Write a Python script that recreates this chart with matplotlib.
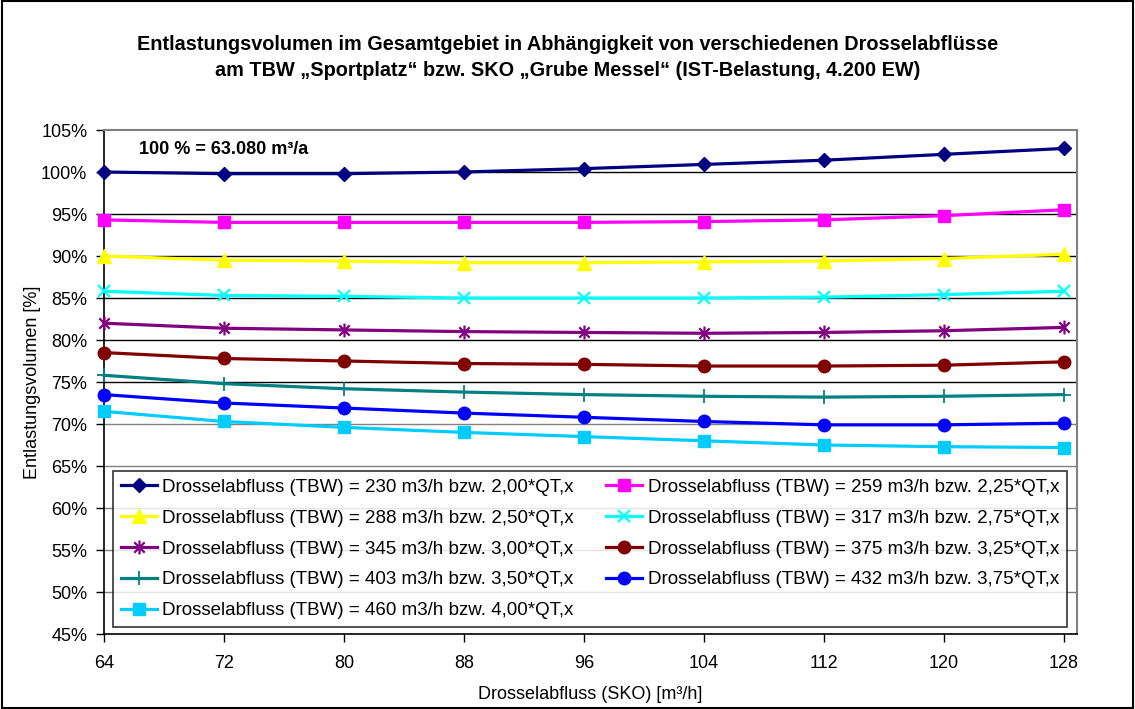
import matplotlib
matplotlib.use("Agg")
import matplotlib.pyplot as plt
from matplotlib.path import Path
from matplotlib.patches import Rectangle
from matplotlib.ticker import PercentFormatter

plt.rcParams['font.family'] = ['Liberation Sans', 'DejaVu Sans']

# Drosselabfluss SKO [m3/h]
sko = [64, 72, 80, 88, 96, 104, 112, 120, 128]

labels = [
    "Drosselabfluss (TBW) = 230 m3/h bzw. 2,00*QT,x",
    "Drosselabfluss (TBW) = 259 m3/h bzw. 2,25*QT,x",
    "Drosselabfluss (TBW) = 288 m3/h bzw. 2,50*QT,x",
    "Drosselabfluss (TBW) = 317 m3/h bzw. 2,75*QT,x",
    "Drosselabfluss (TBW) = 345 m3/h bzw. 3,00*QT,x",
    "Drosselabfluss (TBW) = 375 m3/h bzw. 3,25*QT,x",
    "Drosselabfluss (TBW) = 403 m3/h bzw. 3,50*QT,x",
    "Drosselabfluss (TBW) = 432 m3/h bzw. 3,75*QT,x",
    "Drosselabfluss (TBW) = 460 m3/h bzw. 4,00*QT,x",
]

# Entlastungsvolumen [%] je TBW-Drosselabfluss
tbw_230 = [100.0, 99.8, 99.8, 100.0, 100.4, 100.9, 101.4, 102.1, 102.8]
tbw_259 = [94.3, 94.0, 94.0, 94.0, 94.0, 94.1, 94.3, 94.8, 95.5]
tbw_288 = [90.0, 89.5, 89.4, 89.2, 89.2, 89.3, 89.4, 89.7, 90.2]
tbw_317 = [85.8, 85.3, 85.2, 85.0, 85.0, 85.0, 85.1, 85.4, 85.8]
tbw_345 = [82.0, 81.4, 81.2, 81.0, 80.9, 80.8, 80.9, 81.1, 81.5]
tbw_375 = [78.5, 77.8, 77.5, 77.2, 77.1, 76.9, 76.9, 77.0, 77.4]
tbw_403 = [75.8, 74.8, 74.2, 73.8, 73.5, 73.3, 73.2, 73.3, 73.5]
tbw_432 = [73.5, 72.5, 71.9, 71.3, 70.8, 70.3, 69.9, 69.9, 70.1]
tbw_460 = [71.5, 70.3, 69.6, 69.0, 68.5, 68.0, 67.5, 67.3, 67.2]

series = [tbw_230, tbw_259, tbw_288, tbw_317, tbw_345,
          tbw_375, tbw_403, tbw_432, tbw_460]

# asterisk marker: vertical bar plus an X
asterisk = Path([(0, -1), (0, 1), (-0.75, -0.75), (0.75, 0.75),
                 (-0.75, 0.75), (0.75, -0.75)],
                [Path.MOVETO, Path.LINETO, Path.MOVETO, Path.LINETO,
                 Path.MOVETO, Path.LINETO])

styles = [
    dict(color="#000080", marker="D", ms=7),
    dict(color="#FF00FF", marker="s", ms=9),
    dict(color="#FFFF00", marker="^", ms=10),
    dict(color="#00FFFF", marker="x", ms=9, mew=1.6),
    dict(color="#800080", marker=asterisk, ms=10, mew=1.6),
    dict(color="#800000", marker="o", ms=9),
    dict(color="#008080", marker="+", ms=10, mew=1.3),
    dict(color="#0000FF", marker="o", ms=9),
    dict(color="#00CCFF", marker="s", ms=9),
]

fig = plt.figure(figsize=(11.35, 7.09), dpi=100)
ax = fig.add_axes([104 / 1135, 1 - 634 / 709, 973 / 1135, 504 / 709])

# horizontal gridlines
for lvl in range(50, 105, 5):
    col = "black" if 75 <= lvl <= 100 else "#808080"
    ax.axhline(lvl, color=col, lw=1.0, zorder=0.5)

handles = []
for vals, st, lab in zip(series, styles, labels):
    h, = ax.plot(sko, vals, lw=2.3, mec=st["color"], mfc=st["color"],
                 label=lab, clip_on=False, zorder=3, **st)
    handles.append(h)

ax.set_xlim(64, 128.9)
ax.set_ylim(45, 105)
ax.set_xticks(sko)
ax.set_yticks(range(45, 106, 5))
ax.yaxis.set_major_formatter(PercentFormatter(decimals=0))

ax.tick_params(axis="both", labelsize=13, direction="out", length=6,
               width=1, color="black")
ax.tick_params(axis="y", pad=6)
ax.tick_params(axis="x", pad=9)

for side in ("left", "bottom"):
    ax.spines[side].set_color("black")
    ax.spines[side].set_linewidth(1.2)
for side in ("top", "right"):
    ax.spines[side].set_color("#808080")
    ax.spines[side].set_linewidth(1.5)

ax.set_ylabel("Entlastungsvolumen [%]", fontsize=13, labelpad=0)
ax.set_xlabel("Drosselabfluss (SKO) [m³/h]", fontsize=13, labelpad=10)

ax.text(0.036, 0.962, "100 % = 63.080 m³/a", transform=ax.transAxes,
        fontsize=13, fontweight="bold", va="center", ha="left")

fig.text(0.5, 1 - 45 / 709,
         "Entlastungsvolumen im Gesamtgebiet in Abhängigkeit von verschiedenen Drosselabflüsse",
         ha="center", va="center", fontsize=14.3, fontweight="bold")
fig.text(0.5, 1 - 71 / 709,
         "am TBW „Sportplatz“ bzw. SKO „Grube Messel“ (IST-Belastung, 4.200 EW)",
         ha="center", va="center", fontsize=14.3, fontweight="bold")

order = [0, 2, 4, 6, 8, 1, 3, 5, 7]
leg = ax.legend([handles[i] for i in order], [labels[i] for i in order],
                ncol=2, loc="lower left", mode="expand",
                bbox_to_anchor=(9 / 973, 7 / 504, 954 / 973, 157 / 504),
                fontsize=13.5, frameon=True, fancybox=False, shadow=False,
                borderaxespad=0, handlelength=1.9, handletextpad=0.3,
                labelspacing=0.73, borderpad=0.42, columnspacing=1.0)
leg.get_frame().set_edgecolor("black")
leg.get_frame().set_linewidth(1.2)
leg.set_zorder(5)

fig.patches.append(Rectangle((0.002, 0.002), 0.996, 0.996,
                             transform=fig.transFigure, fill=False,
                             edgecolor="black", lw=1.5))

fig.savefig("out.png", dpi=100)
